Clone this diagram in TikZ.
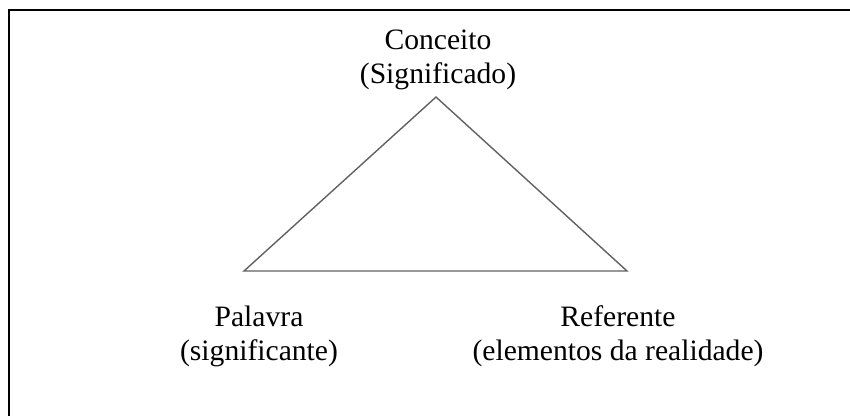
\documentclass[tikz,border=0pt]{standalone}
\usepackage{fontspec}
\setmainfont{Liberation Serif}
\usepackage{tikz}
\usetikzlibrary{calc}

\begin{document}
\begin{tikzpicture}[x=1pt, y=1pt,
		label text/.style={align=center, inner sep=0pt, anchor=base, font=\fontsize{29.6}{33.5}\selectfont}]
		%%%%% START %%%%%
		\useasboundingbox (0, 0) rectangle (850, 416);
		
		\draw[line width=2pt, color=black] (850, 406) -- (9, 406) -- (9, 0);
		
		\coordinate (apex) at (436, 319);
		\coordinate (left) at (244, 145);
		\coordinate (right) at (627, 145);
		\draw[line width=1.4pt, color=black!62, line join=miter] (apex) -- (left) -- (right) -- cycle;
		
		\node[label text] (conceito) at (438, 333) {Conceito\\(Significado)};
		\node[label text] (palavra) at (259, 56) {Palavra\\(significante)};
		\node[label text] (referente) at (618, 56) {Referente\\(elementos da realidade)};
		
		%%%%% END %%%%%
	\end{tikzpicture}
\end{document}
